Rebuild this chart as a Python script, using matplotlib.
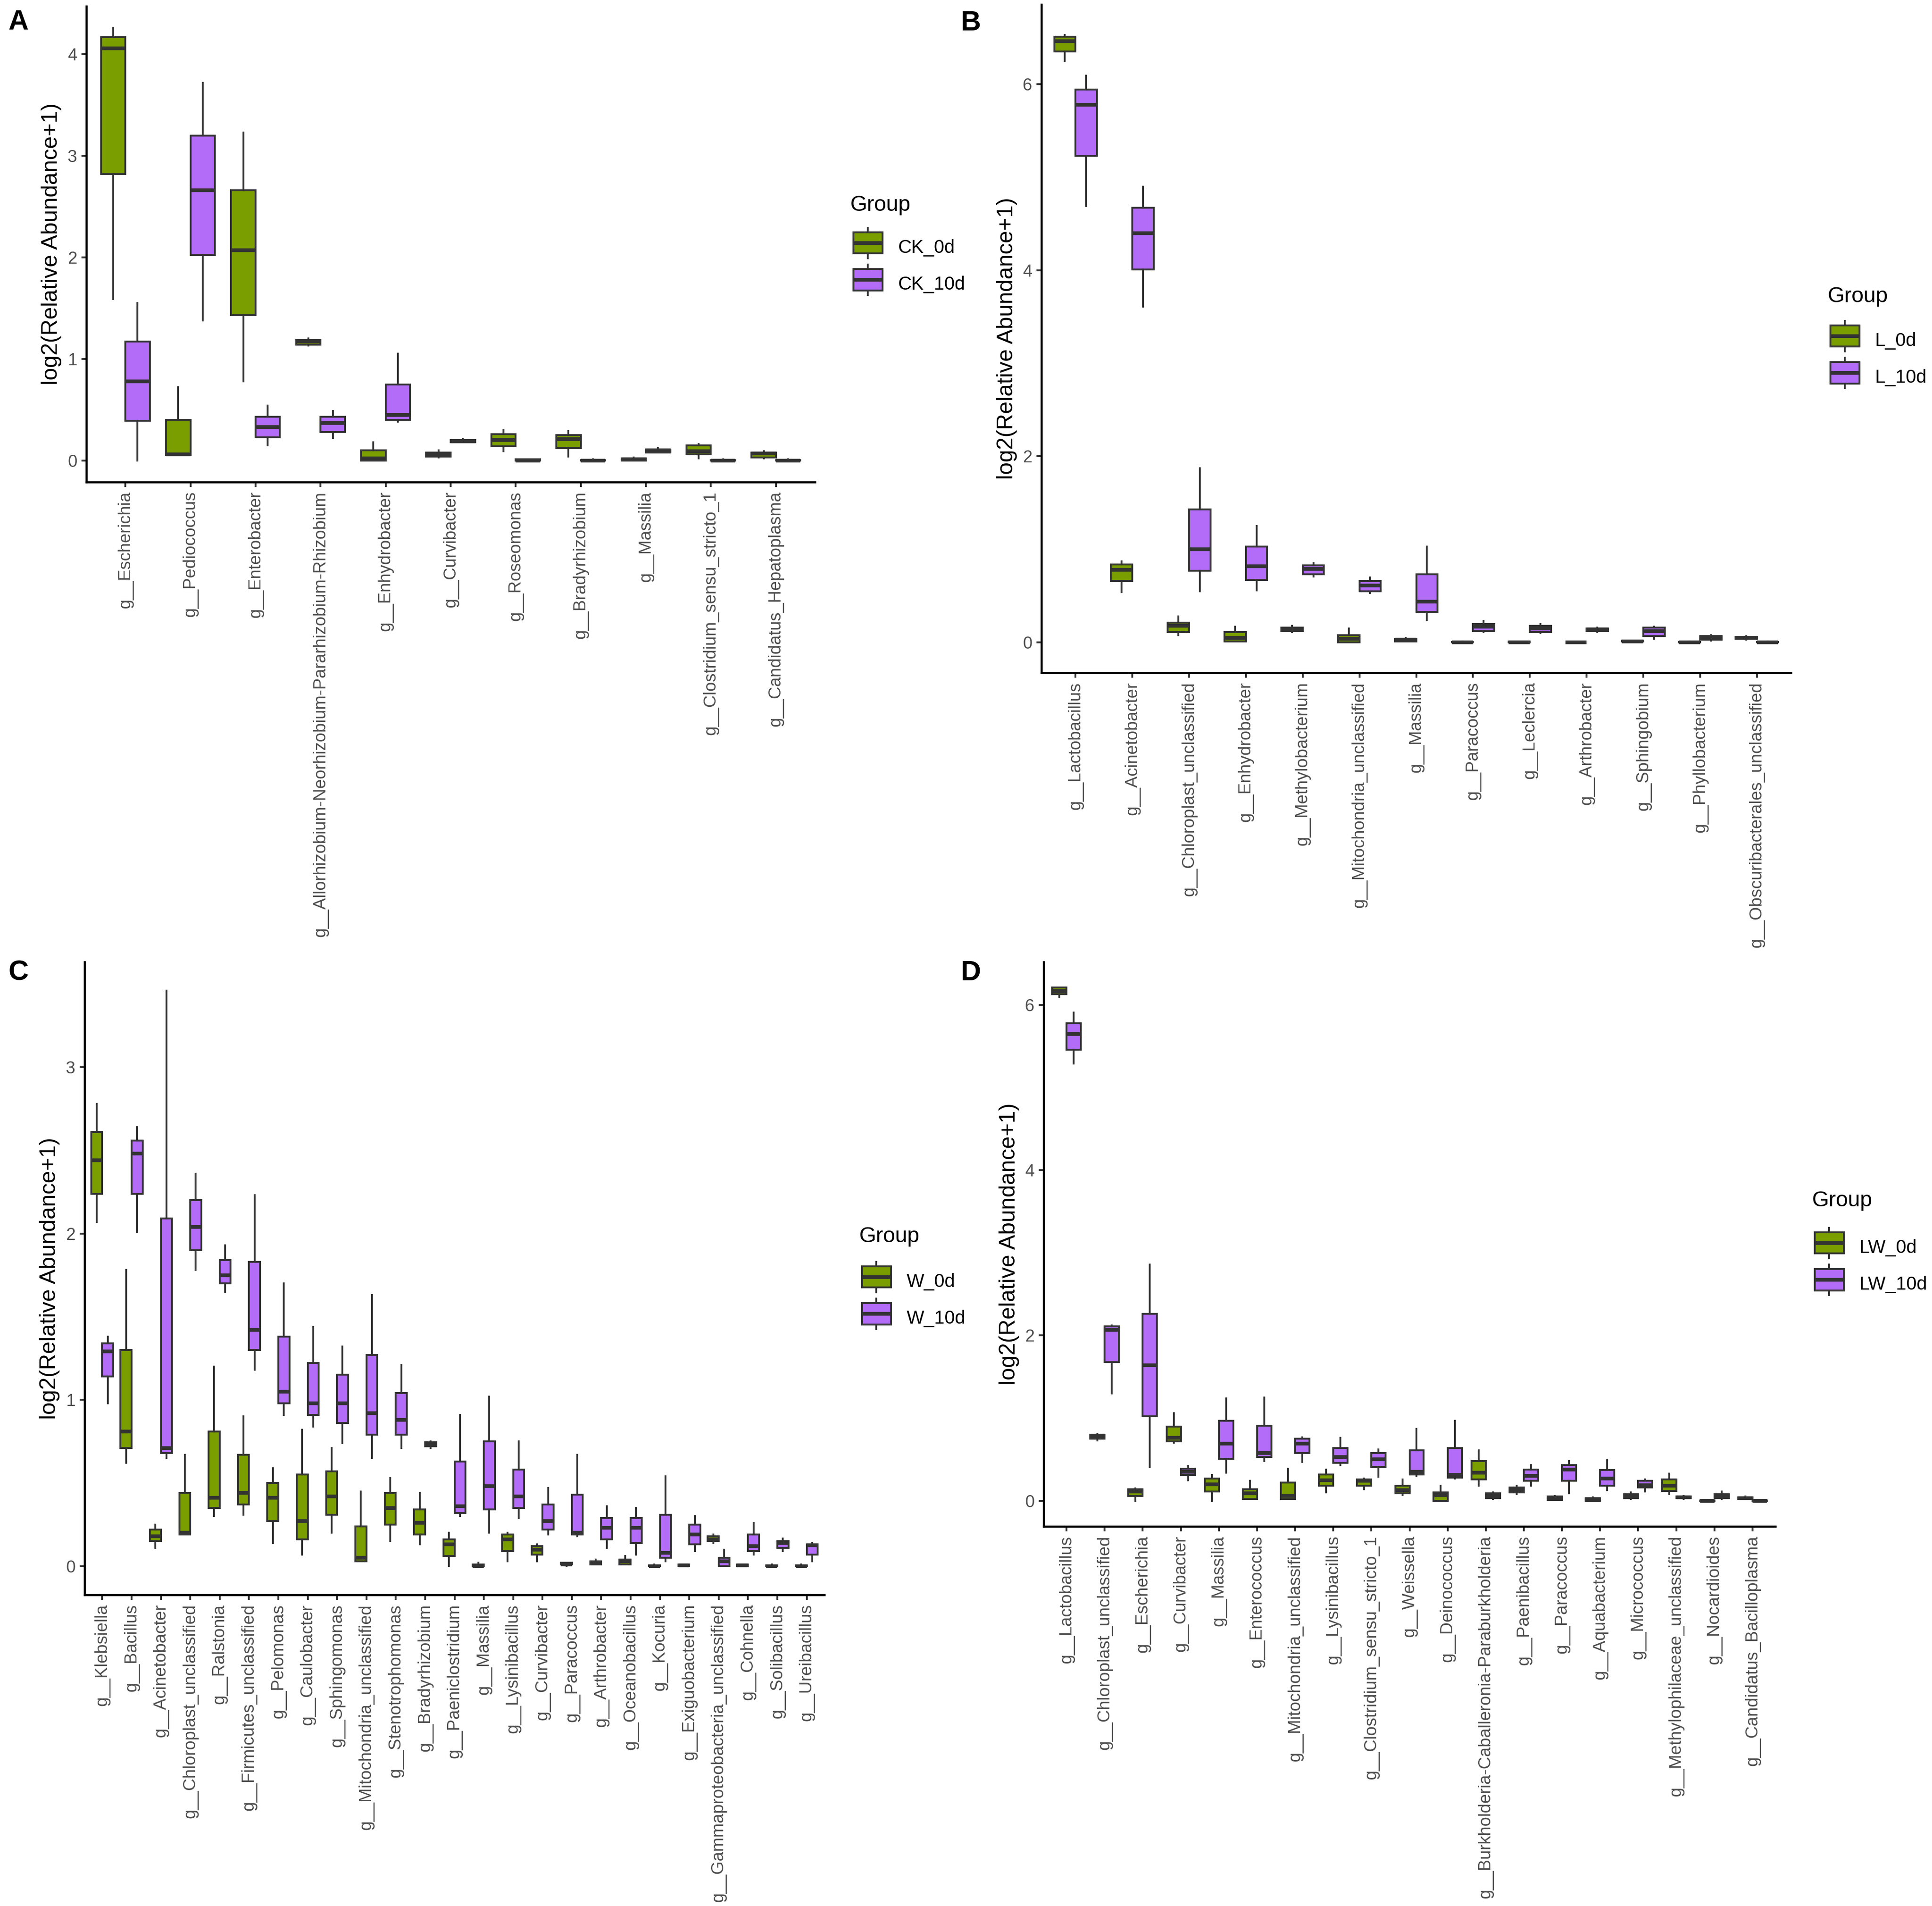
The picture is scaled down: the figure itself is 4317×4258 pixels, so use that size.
import matplotlib
matplotlib.use("Agg")
import matplotlib.pyplot as plt
import numpy as np
from matplotlib.legend_handler import HandlerBase
from matplotlib.patches import Rectangle, Patch
from matplotlib.lines import Line2D

plt.rcParams['font.family'] = ['Liberation Sans', 'DejaVu Sans']

# ---- data: five-number summaries (whisker low, Q1, median, Q3, whisker high) ----
A_GENERA = ['g__Escherichia', 'g__Pediococcus', 'g__Enterobacter',
            'g__Allorhizobium-Neorhizobium-Pararhizobium-Rhizobium', 'g__Enhydrobacter',
            'g__Curvibacter', 'g__Roseomonas', 'g__Bradyrhizobium', 'g__Massilia',
            'g__Clostridium_sensu_stricto_1', 'g__Candidatus_Hepatoplasma']
A_GROUPS = ['CK_0d', 'CK_10d']
A_CK0 = [(1.59, 2.82, 4.06, 4.17, 4.26), (0.05, 0.05, 0.06, 0.40, 0.72),
         (0.78, 1.43, 2.07, 2.66, 3.23), (1.13, 1.14, 1.17, 1.19, 1.20),
         (0.00, 0.00, 0.02, 0.10, 0.18), (0.03, 0.04, 0.06, 0.08, 0.10),
         (0.09, 0.14, 0.20, 0.26, 0.30), (0.04, 0.12, 0.21, 0.25, 0.29),
         (0.00, 0.00, 0.01, 0.02, 0.03), (0.02, 0.06, 0.09, 0.15, 0.16),
         (0.02, 0.03, 0.07, 0.08, 0.09)]
A_CK10 = [(0.00, 0.39, 0.78, 1.17, 1.55), (1.38, 2.02, 2.66, 3.20, 3.72),
          (0.15, 0.23, 0.33, 0.43, 0.54), (0.22, 0.28, 0.37, 0.43, 0.49),
          (0.38, 0.40, 0.45, 0.75, 1.05), (0.18, 0.18, 0.19, 0.20, 0.21),
          (0.00, 0.00, 0.00, 0.01, 0.01), (0.00, 0.00, 0.00, 0.005, 0.01),
          (0.08, 0.08, 0.10, 0.11, 0.12), (0.00, 0.00, 0.00, 0.005, 0.01),
          (0.00, 0.00, 0.00, 0.005, 0.01)]

B_GENERA = ['g__Lactobacillus', 'g__Acinetobacter', 'g__Chloroplast_unclassified',
            'g__Enhydrobacter', 'g__Methylobacterium', 'g__Mitochondria_unclassified',
            'g__Massilia', 'g__Paracoccus', 'g__Leclercia', 'g__Arthrobacter',
            'g__Sphingobium', 'g__Phyllobacterium', 'g__Obscuribacterales_unclassified']
B_GROUPS = ['L_0d', 'L_10d']
B_L0 = [(6.25, 6.35, 6.46, 6.51, 6.53), (0.54, 0.66, 0.78, 0.84, 0.87),
        (0.08, 0.11, 0.18, 0.21, 0.28), (0.01, 0.01, 0.05, 0.11, 0.17),
        (0.11, 0.12, 0.14, 0.16, 0.18), (0.00, 0.00, 0.04, 0.08, 0.15),
        (0.01, 0.01, 0.03, 0.04, 0.05), (0.00, 0.00, 0.00, 0.005, 0.01),
        (0.00, 0.00, 0.00, 0.01, 0.01), (0.00, 0.00, 0.00, 0.00, 0.005),
        (0.005, 0.01, 0.01, 0.02, 0.02), (0.00, 0.00, 0.00, 0.005, 0.01),
        (0.03, 0.04, 0.05, 0.06, 0.07)]
B_L10 = [(4.69, 5.23, 5.78, 5.94, 6.09), (3.61, 4.01, 4.40, 4.67, 4.90),
         (0.55, 0.77, 1.00, 1.43, 1.87), (0.56, 0.67, 0.82, 1.03, 1.25),
         (0.71, 0.73, 0.79, 0.83, 0.85), (0.53, 0.55, 0.61, 0.66, 0.70),
         (0.24, 0.33, 0.44, 0.73, 1.03), (0.11, 0.12, 0.17, 0.20, 0.23),
         (0.10, 0.11, 0.15, 0.18, 0.20), (0.11, 0.12, 0.14, 0.15, 0.16),
         (0.04, 0.07, 0.12, 0.16, 0.17), (0.02, 0.03, 0.06, 0.07, 0.08),
         (0.00, 0.00, 0.00, 0.005, 0.01)]

C_GENERA = ['g__Klebsiella', 'g__Bacillus', 'g__Acinetobacter', 'g__Chloroplast_unclassified',
            'g__Ralstonia', 'g__Firmicutes_unclassified', 'g__Pelomonas', 'g__Caulobacter',
            'g__Sphingomonas', 'g__Mitochondria_unclassified', 'g__Stenotrophomonas',
            'g__Bradyrhizobium', 'g__Paeniclostridium', 'g__Massilia', 'g__Lysinibacillus',
            'g__Curvibacter', 'g__Paracoccus', 'g__Arthrobacter', 'g__Oceanobacillus',
            'g__Kocuria', 'g__Exiguobacterium', 'g__Gammaproteobacteria_unclassified',
            'g__Cohnella', 'g__Solibacillus', 'g__Ureibacillus']
C_GROUPS = ['W_0d', 'W_10d']
C_W0 = [(2.07, 2.24, 2.44, 2.61, 2.78), (0.62, 0.71, 0.81, 1.30, 1.78),
        (0.11, 0.15, 0.18, 0.22, 0.25), (0.19, 0.19, 0.20, 0.44, 0.67),
        (0.30, 0.35, 0.41, 0.81, 1.20), (0.31, 0.37, 0.44, 0.67, 0.90),
        (0.14, 0.27, 0.41, 0.50, 0.59), (0.07, 0.16, 0.27, 0.55, 0.82),
        (0.20, 0.31, 0.42, 0.57, 0.71), (0.03, 0.03, 0.05, 0.24, 0.45),
        (0.15, 0.25, 0.35, 0.44, 0.53), (0.13, 0.19, 0.26, 0.34, 0.44),
        (0.00, 0.06, 0.13, 0.16, 0.20), (0.00, 0.00, 0.00, 0.01, 0.02),
        (0.03, 0.09, 0.16, 0.19, 0.20), (0.03, 0.07, 0.10, 0.12, 0.13),
        (0.00, 0.01, 0.01, 0.02, 0.02), (0.01, 0.01, 0.02, 0.03, 0.04),
        (0.01, 0.01, 0.03, 0.04, 0.06), (0.00, 0.00, 0.00, 0.005, 0.01),
        (0.00, 0.00, 0.005, 0.01, 0.01), (0.14, 0.15, 0.16, 0.18, 0.19),
        (0.00, 0.00, 0.005, 0.01, 0.01), (0.00, 0.00, 0.00, 0.005, 0.01),
        (0.00, 0.00, 0.00, 0.005, 0.01)]
C_W10 = [(0.98, 1.14, 1.29, 1.34, 1.38), (2.01, 2.24, 2.48, 2.56, 2.64),
         (0.65, 0.68, 0.71, 2.09, 3.46), (1.78, 1.90, 2.04, 2.20, 2.36),
         (1.65, 1.70, 1.75, 1.84, 1.93), (1.18, 1.30, 1.42, 1.83, 2.23),
         (0.91, 0.98, 1.05, 1.38, 1.70), (0.84, 0.91, 0.98, 1.22, 1.44),
         (0.74, 0.86, 0.98, 1.15, 1.32), (0.65, 0.79, 0.92, 1.27, 1.63),
         (0.71, 0.79, 0.88, 1.04, 1.21), (0.71, 0.72, 0.73, 0.745, 0.75),
         (0.30, 0.32, 0.36, 0.63, 0.91), (0.20, 0.34, 0.48, 0.75, 1.02),
         (0.29, 0.35, 0.42, 0.58, 0.75), (0.19, 0.22, 0.27, 0.37, 0.47),
         (0.18, 0.19, 0.20, 0.43, 0.67), (0.11, 0.16, 0.23, 0.29, 0.36),
         (0.07, 0.14, 0.23, 0.29, 0.35), (0.03, 0.05, 0.08, 0.31, 0.54),
         (0.09, 0.13, 0.19, 0.25, 0.30), (0.00, 0.00, 0.03, 0.05, 0.10),
         (0.07, 0.09, 0.12, 0.19, 0.26), (0.09, 0.11, 0.14, 0.15, 0.165),
         (0.03, 0.07, 0.125, 0.13, 0.14)]

D_GENERA = ['g__Lactobacillus', 'g__Chloroplast_unclassified', 'g__Escherichia',
            'g__Curvibacter', 'g__Massilia', 'g__Enterococcus', 'g__Mitochondria_unclassified',
            'g__Lysinibacillus', 'g__Clostridium_sensu_stricto_1', 'g__Weissella',
            'g__Deinococcus', 'g__Burkholderia-Caballeronia-Paraburkholderia',
            'g__Paenibacillus', 'g__Paracoccus', 'g__Aquabacterium', 'g__Micrococcus',
            'g__Methylophilaceae_unclassified', 'g__Nocardioides',
            'g__Candidatus_Bacilloplasma']
D_GROUPS = ['LW_0d', 'LW_10d']
D_LW0 = [(6.10, 6.13, 6.17, 6.21, 6.21), (0.73, 0.75, 0.77, 0.80, 0.81),
         (0.00, 0.06, 0.11, 0.14, 0.15), (0.70, 0.72, 0.76, 0.90, 1.06),
         (0.00, 0.11, 0.20, 0.27, 0.31), (0.02, 0.02, 0.09, 0.14, 0.24),
         (0.02, 0.02, 0.06, 0.22, 0.39), (0.10, 0.18, 0.25, 0.32, 0.38),
         (0.14, 0.18, 0.24, 0.26, 0.27), (0.07, 0.09, 0.13, 0.18, 0.26),
         (0.00, 0.00, 0.07, 0.10, 0.18), (0.18, 0.26, 0.34, 0.48, 0.61),
         (0.08, 0.10, 0.13, 0.16, 0.18), (0.01, 0.01, 0.03, 0.05, 0.06),
         (0.00, 0.00, 0.02, 0.03, 0.04), (0.02, 0.03, 0.06, 0.08, 0.10),
         (0.08, 0.12, 0.18, 0.26, 0.33), (0.00, 0.00, 0.00, 0.005, 0.01),
         (0.02, 0.02, 0.03, 0.04, 0.05)]
D_LW10 = [(5.29, 5.46, 5.65, 5.78, 5.91), (1.30, 1.68, 2.07, 2.11, 2.12),
          (0.41, 1.02, 1.64, 2.26, 2.86), (0.25, 0.31, 0.35, 0.39, 0.42),
          (0.34, 0.51, 0.69, 0.97, 1.24), (0.48, 0.53, 0.58, 0.91, 1.25),
          (0.47, 0.58, 0.69, 0.75, 0.77), (0.43, 0.46, 0.53, 0.64, 0.76),
          (0.29, 0.41, 0.50, 0.58, 0.62), (0.30, 0.32, 0.35, 0.61, 0.87),
          (0.27, 0.28, 0.31, 0.64, 0.97), (0.02, 0.03, 0.06, 0.09, 0.10),
          (0.18, 0.24, 0.30, 0.38, 0.43), (0.09, 0.24, 0.38, 0.43, 0.48),
          (0.13, 0.18, 0.27, 0.37, 0.49), (0.11, 0.16, 0.19, 0.24, 0.26),
          (0.02, 0.03, 0.04, 0.05, 0.06), (0.02, 0.03, 0.06, 0.08, 0.11),
          (0.00, 0.00, 0.00, 0.005, 0.01)]

GREEN = '#7A9E00'
PURPLE = '#B36CF7'
EDGE = '#333333'
TXT = '#4D4D4D'

W, H = 4317, 4258
fig = plt.figure(figsize=(W / 300, H / 300), dpi=300)


class BoxKey(HandlerBase):
    # ggplot-like boxplot legend key, fixed size, centred a little above the text baseline
    def create_artists(self, legend, orig_handle, xdescent, ydescent,
                       width, height, fontsize, trans):
        x0 = -xdescent
        full = 1.63 * fontsize
        yc = 0.53 * fontsize
        bh = full * 0.7
        by = yc - bh / 2
        cx = x0 + width / 2
        top = Line2D([cx, cx], [by + bh, yc + full / 2], color=EDGE, lw=1.0, transform=trans)
        bot = Line2D([cx, cx], [yc - full / 2, by], color=EDGE, lw=1.0, transform=trans)
        rect = Rectangle((x0, by), width, bh, facecolor=orig_handle.get_facecolor(),
                         edgecolor=EDGE, lw=1.0, transform=trans)
        med = Line2D([x0, x0 + width], [yc, yc], color=EDGE, lw=2.0,
                     solid_capstyle='butt', transform=trans)
        return [top, bot, rect, med]


def px_axes(left, right, top, bottom):
    return fig.add_axes([left / W, 1 - bottom / H, (right - left) / W, (bottom - top) / H])


def draw_panel(ax, genera, g0, g10, groups, yticks, title_xy, key_xy, letter, letter_xy):
    n = len(genera)
    pos = np.arange(1, n + 1)
    allv = []
    for rows, off, col in ((g0, -0.1875, GREEN), (g10, 0.1875, PURPLE)):
        stats = [dict(whislo=r[0], q1=r[1], med=r[2], q3=r[3], whishi=r[4]) for r in rows]
        allv += [v for r in rows for v in r]
        ax.bxp(stats, positions=pos + off, widths=0.375, patch_artist=True,
               showfliers=False, showcaps=False, manage_ticks=False,
               boxprops=dict(facecolor=col, edgecolor=EDGE, linewidth=1.0),
               whiskerprops=dict(color=EDGE, linewidth=1.0),
               medianprops=dict(color=EDGE, linewidth=2.0, solid_capstyle='butt'))
    lo, hi = min(allv), max(allv)
    pad = 0.05 * (hi - lo)
    ax.set_ylim(lo - pad, hi + pad)
    ax.set_xlim(0.4, n + 0.6)
    ax.set_yticks(yticks)
    ax.set_yticklabels([str(t) for t in yticks])
    ax.set_xticks(pos)
    ax.set_xticklabels(genera, rotation=90)
    for s in ('top', 'right'):
        ax.spines[s].set_visible(False)
    for s in ('left', 'bottom'):
        ax.spines[s].set_linewidth(1.1)
        ax.spines[s].set_color('black')
    ax.tick_params(axis='both', length=2.75, width=1.0, color='#333333', pad=2.2,
                   labelsize=9.2, labelcolor=TXT)
    ax.set_ylabel('log2(Relative Abundance+1)', fontsize=12, color='black', labelpad=3)

    # legend: title as plain text, entries as a borderless legend
    fig.text(title_xy[0] / W, 1 - title_xy[1] / H, 'Group', fontsize=11.7,
             ha='left', va='top', color='black')
    handles = [Patch(facecolor=GREEN), Patch(facecolor=PURPLE)]
    # key_xy = (key left, centre of first key); area top sits 26 px above that centre
    ax.legend(handles=handles, labels=groups, handler_map={Patch: BoxKey()},
              loc='upper left', bbox_to_anchor=(key_xy[0] / W, 1 - (key_xy[1] - 26) / H),
              bbox_transform=fig.transFigure, frameon=False, fontsize=10,
              handlelength=1.55, handleheight=2.19, labelspacing=0.3,
              handletextpad=0.85, borderpad=0, borderaxespad=0)
    fig.text(letter_xy[0] / W, 1 - letter_xy[1] / H, letter, fontsize=15,
             fontweight='bold', ha='left', va='top')


axA = px_axes(193, 1821, 14, 1077)
draw_panel(axA, A_GENERA, A_CK0, A_CK10, A_GROUPS, [0, 1, 2, 3, 4],
           (1900, 436), (1907, 543), 'A', (18, 20))

axB = px_axes(2327, 4002, 10, 1503)
draw_panel(axB, B_GENERA, B_L0, B_L10, B_GROUPS, [0, 2, 4, 6],
           (4083, 640), (4090, 751), 'B', (2147, 22))

axC = px_axes(189, 1842, 2149, 3563)
draw_panel(axC, C_GENERA, C_W0, C_W10, C_GROUPS, [0, 1, 2, 3],
           (1919, 2740), (1926, 2853), 'C', (18, 2144))

axD = px_axes(2332, 3967, 2149, 3410)
draw_panel(axD, D_GENERA, D_LW0, D_LW10, D_GROUPS, [0, 2, 4, 6],
           (4048, 2660), (4055, 2777), 'D', (2147, 2144))

fig.savefig('out.png', dpi=300, facecolor='white')
